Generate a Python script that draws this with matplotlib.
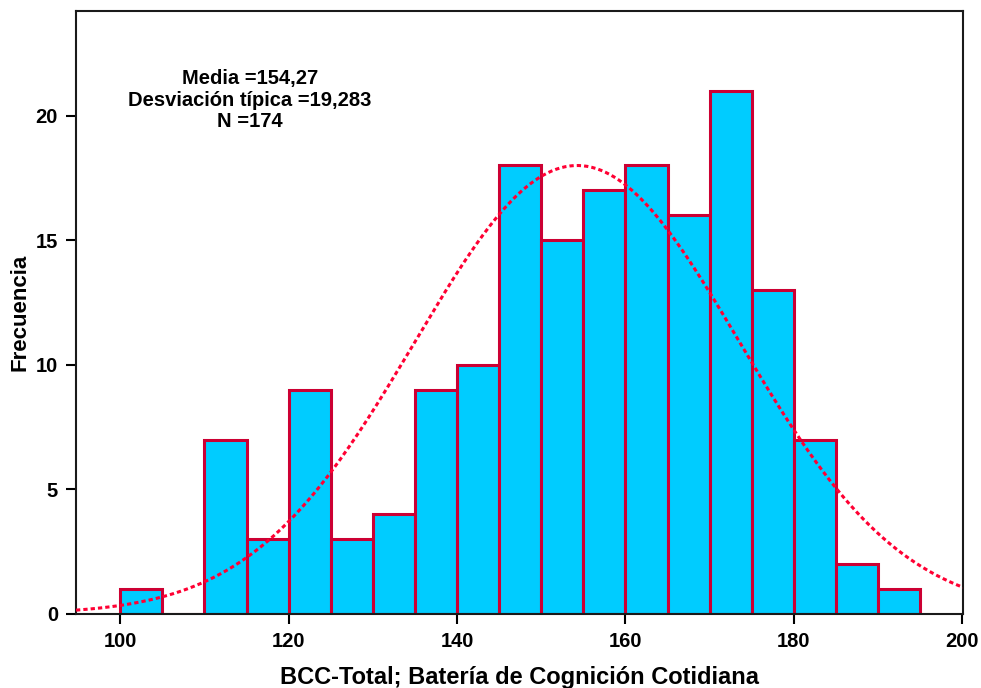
import numpy as np
import matplotlib.pyplot as plt

plt.rcParams['font.family'] = ['Liberation Sans', 'DejaVu Sans']
plt.rcParams['font.weight'] = 'bold'

# histograma BCC-Total
bin_edges = np.arange(100, 200, 5)
counts = [1, 0, 7, 3, 9, 3, 4, 9, 10, 18, 15, 17, 18, 16, 21, 13, 7, 2, 1]
media = 154.27
desv = 19.283
n = 174
ancho = 5

fig = plt.figure(figsize=(9.81, 6.88), dpi=100)
ax = fig.add_axes([0.0775, 0.1076, 0.9042, 0.8764])

ax.bar(bin_edges[:len(counts)], counts, width=ancho, align='edge',
       color='#00CCFF', edgecolor='#CC0033', linewidth=2.2, zorder=2)

# curva normal con media y desviacion
xs = np.linspace(94.75, 200.1, 400)
ys = n * ancho / (desv * np.sqrt(2 * np.pi)) * np.exp(-0.5 * ((xs - media) / desv) ** 2)
ax.plot(xs, ys, color='#FF0033', linewidth=2.2, linestyle=(0, (1.4, 1.0)), zorder=3)

ax.set_xlim(94.75, 200.1)
ax.set_ylim(0, 24.2)
ax.set_xticks([100, 120, 140, 160, 180, 200])
ax.set_yticks([0, 5, 10, 15, 20])
ax.tick_params(direction='out', length=7, width=1.5, labelsize=14.5, pad=6)
for s in ax.spines.values():
    s.set_linewidth(1.5)
    s.set_color('#1a1a1a')

ax.set_xlabel('BCC-Total; Batería de Cognición Cotidiana', fontsize=17,
              fontweight='bold', labelpad=11)
ax.set_ylabel('Frecuencia', fontsize=16, fontweight='bold', labelpad=4)

ax.text(0.196, 0.852, 'Media =154,27\nDesviación típica =19,283\nN =174',
        transform=ax.transAxes, ha='center', va='center', fontsize=14.5,
        linespacing=1.18)

fig.savefig('out.png', dpi=100)
